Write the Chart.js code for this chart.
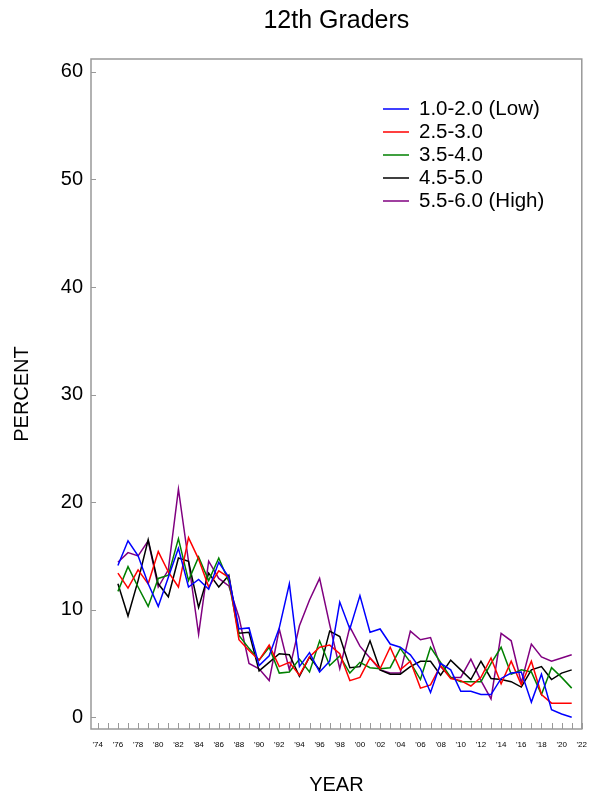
<!DOCTYPE html>
<html>
<head>
<meta charset="utf-8">
<script src="https://cdn.jsdelivr.net/npm/chart.js@4"></script>
<style>
html, body { margin: 0; padding: 0; background: #fff; }
#wrap { width: 590px; height: 798px; }
</style>
</head>
<body>
<div id="wrap"><canvas id="chart"></canvas></div>
<script>
var years = [1976, 1977, 1978, 1979, 1980, 1981, 1982, 1983, 1984, 1985,
             1986, 1987, 1988, 1989, 1990, 1991, 1992, 1993, 1994, 1995,
             1996, 1997, 1998, 1999, 2000, 2001, 2002, 2003, 2004, 2005,
             2006, 2007, 2008, 2009, 2010, 2011, 2012, 2013, 2014, 2015,
             2016, 2017, 2018, 2019, 2020, 2021];

var seriesNames = ['1.0-2.0 (Low)', '2.5-3.0', '3.5-4.0', '4.5-5.0', '5.5-6.0 (High)'];
var seriesColors = ['#0000ff', '#ff0000', '#008000', '#000000', '#800080'];

var low = [14.1, 16.4, 15.0, 12.4, 10.3, 13.0, 15.7, 12.1, 12.8, 11.9,
           14.4, 13.0, 8.2, 8.3, 4.8, 5.7, 8.3, 12.4, 4.7, 6.0,
           4.2, 5.2, 10.7, 8.2, 11.3, 7.9, 8.2, 6.8, 6.5, 5.8,
           4.5, 2.3, 5.0, 4.4, 2.4, 2.4, 2.1, 2.1, 3.6, 4.1,
           4.2, 1.4, 4.0, 0.7, 0.3, 0.0];
var midLow = [13.4, 12.0, 13.7, 12.4, 15.4, 13.5, 12.1, 16.7, 14.7, 12.1,
              13.6, 13.0, 7.2, 6.2, 5.3, 6.7, 4.7, 5.1, 3.9, 5.6,
              6.5, 6.7, 5.9, 3.4, 3.7, 5.5, 4.5, 6.5, 4.4, 5.2,
              2.7, 3.0, 4.8, 3.6, 3.4, 2.9, 3.7, 5.5, 3.1, 5.2,
              3.0, 5.2, 2.1, 1.3, 1.3, 1.3];
var mid = [11.7, 14.0, 12.1, 10.3, 12.9, 13.2, 16.6, 12.7, 14.9, 12.7,
           14.8, 12.6, 7.6, 6.4, 5.3, 6.5, 4.1, 4.2, 5.4, 4.2,
           7.1, 4.8, 5.7, 4.1, 5.1, 4.6, 4.5, 4.6, 6.4, 5.1,
           3.5, 6.5, 5.1, 3.7, 3.3, 3.3, 3.3, 5.0, 6.5, 4.0,
           4.4, 4.2, 2.1, 4.6, 3.7, 2.7];
var midHigh = [12.4, 9.4, 12.7, 16.5, 12.4, 11.2, 14.8, 14.5, 10.2, 13.4,
               12.1, 13.2, 7.8, 7.9, 4.3, 5.1, 5.9, 5.8, 3.8, 5.6,
               4.4, 8.0, 7.5, 4.6, 4.7, 7.1, 4.4, 4.0, 4.0, 4.7,
               5.2, 5.2, 3.9, 5.3, 4.4, 3.5, 5.2, 3.6, 3.5, 3.3,
               2.8, 4.4, 4.7, 3.5, 4.1, 4.4];
var high = [14.4, 15.3, 15.0, 16.4, 12.1, 13.7, 21.2, 14.5, 7.7, 14.5,
            12.9, 12.2, 9.3, 5.0, 4.5, 3.4, 8.2, 4.4, 8.5, 10.9,
            12.9, 8.6, 4.5, 8.4, 6.6, 5.5, 4.4, 4.1, 4.1, 8.0,
            7.2, 7.4, 4.7, 3.7, 3.7, 5.4, 3.4, 1.7, 7.8, 7.1,
            3.2, 6.8, 5.6, 5.2, 5.5, 5.8];

var yTickValues = [0, 10, 20, 30, 40, 50, 60];
var xLabelYears = [1974, 1976, 1978, 1980, 1982, 1984, 1986, 1988, 1990, 1992,
                   1994, 1996, 1998, 2000, 2002, 2004, 2006, 2008, 2010, 2012,
                   2014, 2016, 2018, 2020, 2022];
var xTickYears = [];
for (var t = 1974; t <= 2022; t++) xTickYears.push(t);

var allSeries = [low, midLow, mid, midHigh, high];

var datasets = allSeries.map(function(vals, i) {
    return {
        label: seriesNames[i],
        data: vals.map(function(v, j) { return {x: years[j], y: v}; }),
        borderColor: seriesColors[i],
        backgroundColor: seriesColors[i],
        borderWidth: 1.5,
        pointRadius: 0,
        fill: false,
        tension: 0
    };
});

// frame, inward ticks and legend inside the plot
var framePlugin = {
    id: 'frame',
    afterDraw: function(chart) {
        var ctx = chart.ctx, a = chart.chartArea,
            xs = chart.scales.x, ys = chart.scales.y;
        ctx.save();
        ctx.strokeStyle = '#999999';
        ctx.lineWidth = 1.5;
        ctx.strokeRect(a.left, a.top, a.right - a.left, a.bottom - a.top);
        ctx.lineWidth = 1;
        ctx.beginPath();
        xTickYears.forEach(function(yr) {
            var px = Math.round(xs.getPixelForValue(yr)) + 0.5;
            ctx.moveTo(px, a.bottom);
            ctx.lineTo(px, a.bottom - 6);
        });
        yTickValues.forEach(function(v) {
            var py = Math.round(ys.getPixelForValue(v)) + 0.5;
            ctx.moveTo(a.left, py);
            ctx.lineTo(a.left + 5, py);
        });
        ctx.stroke();

        // legend
        ctx.font = '20.5px "Liberation Sans", Arial, sans-serif';
        ctx.textBaseline = 'middle';
        ctx.textAlign = 'left';
        chart.data.datasets.forEach(function(ds, i) {
            var ly = 109 + i * 23;
            ctx.strokeStyle = ds.borderColor;
            ctx.lineWidth = 1.5;
            ctx.beginPath();
            ctx.moveTo(383, ly);
            ctx.lineTo(409, ly);
            ctx.stroke();
            ctx.fillStyle = '#000';
            ctx.fillText(ds.label, 419, ly);
        });
        ctx.restore();
    }
};

new Chart(document.getElementById('chart'), {
    type: 'line',
    data: { datasets: datasets },
    options: {
        responsive: true,
        maintainAspectRatio: false,
        animation: false,
        devicePixelRatio: 1,
        layout: { padding: { left: 0, right: 1, top: 0, bottom: 0 } },
        plugins: {
            legend: { display: false },
            tooltip: { enabled: false },
            title: {
                display: true,
                text: '12th Graders',
                fullSize: false,
                color: '#000',
                font: { family: '"Liberation Sans", Arial, sans-serif', size: 25, weight: 'normal' },
                padding: { top: 6, bottom: 23 }
            }
        },
        scales: {
            x: {
                type: 'linear',
                min: 1973.33,
                max: 2022,
                grid: { display: false },
                border: { display: false },
                afterBuildTicks: function(s) {
                    s.ticks = xLabelYears.map(function(v) { return {value: v}; });
                },
                afterFit: function(s) { s.height = 69; },
                ticks: {
                    autoSkip: false,
                    maxRotation: 0,
                    padding: 3,
                    color: '#000',
                    font: { family: '"Liberation Sans", Arial, sans-serif', size: 8 },
                    callback: function(v) { return "'" + String(v).slice(2); }
                },
                title: {
                    display: true,
                    text: 'YEAR',
                    color: '#000',
                    font: { family: '"Liberation Sans", Arial, sans-serif', size: 20 },
                    padding: { top: 0, bottom: 1 }
                }
            },
            y: {
                min: -1.1,
                max: 61.2,
                grid: { display: false },
                border: { display: false },
                afterBuildTicks: function(s) {
                    s.ticks = yTickValues.map(function(v) { return {value: v}; });
                },
                afterFit: function(s) { s.width = 91; },
                ticks: {
                    padding: 0,
                    color: '#000',
                    font: { family: '"Liberation Sans", Arial, sans-serif', size: 20 }
                },
                title: {
                    display: true,
                    text: 'PERCENT',
                    color: '#000',
                    font: { family: '"Liberation Sans", Arial, sans-serif', size: 20 },
                    padding: { top: 10, bottom: 0 }
                }
            }
        }
    },
    plugins: [framePlugin]
});
</script>
</body>
</html>
